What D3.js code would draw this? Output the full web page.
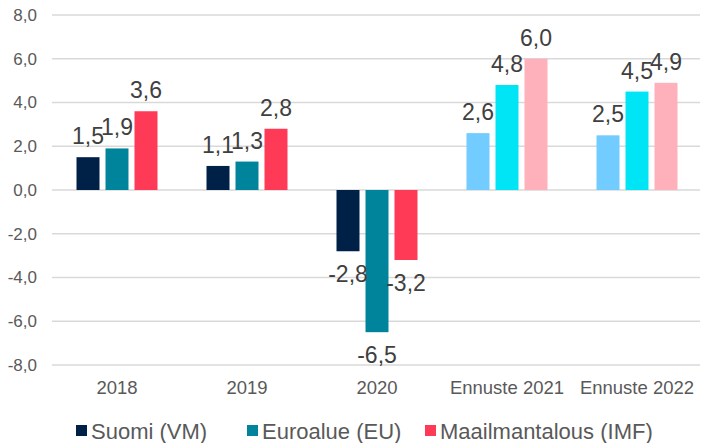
<!DOCTYPE html>
<html>
<head>
<meta charset="utf-8">
<script src="https://cdn.jsdelivr.net/npm/d3@7"></script>
<style>
  body { margin: 0; background: #fff; }
  svg { display: block; font-family: "Liberation Sans", Arial, sans-serif; }
</style>
</head>
<body>
<div id="chart"></div>
<script>
// Talouskasvu: toteutunut ja ennuste
const categories = ["2018", "2019", "2020", "Ennuste 2021", "Ennuste 2022"];
const seriesNames = ["Suomi (VM)", "Euroalue (EU)", "Maailmantalous (IMF)"];
const suomi = [1.5, 1.1, -2.8, 2.6, 2.5];
const euroalue = [1.9, 1.3, -6.5, 4.8, 4.5];
const maailmantalous = [3.6, 2.8, -3.2, 6.0, 4.9];
const forecast = [false, false, false, true, true];
const yTicks = [-8, -6, -4, -2, 0, 2, 4, 6, 8];

(function () {
  const W = 701, H = 443;
  const colors = ["#002147", "#00849b", "#ff3a56"];
  const forecastColors = ["#73ccff", "#00e5f5", "#ffb1bb"];
  const fmt = v => d3.format(".1f")(v).replace(".", ",").replace("−", "-");

  const values = [suomi, euroalue, maailmantalous];
  const rows = categories.map((c, i) => ({
    cat: c, forecast: forecast[i],
    vals: seriesNames.map((s, j) => ({ s: s, j: j, v: values[j][i] }))
  }));

  const svg = d3.select("#chart").append("svg").attr("width", W).attr("height", H);

  const x0 = d3.scaleBand().domain(categories).range([52, 702])
    .paddingInner(0.377).paddingOuter(0.1885);
  const x1 = d3.scaleBand().domain(seriesNames).range([0, x0.bandwidth()])
    .paddingInner(0.207).paddingOuter(0);
  const y = d3.scaleLinear().domain([-8, 8]).range([365, 15]);

  // gridlines
  svg.append("g").selectAll("line").data(yTicks).join("line")
    .attr("x1", 52).attr("x2", 700)
    .attr("y1", d => y(d)).attr("y2", d => y(d))
    .attr("stroke", "#d9d9d9").attr("stroke-width", 1.5);

  // y axis labels
  const yAxis = svg.append("g").attr("transform", "translate(37,0)")
    .call(d3.axisLeft(y).tickValues(yTicks).tickSize(0).tickPadding(0).tickFormat(fmt));
  yAxis.select(".domain").remove();
  yAxis.selectAll("text").attr("font-size", "17px").attr("fill", "#595959")
    .attr("font-family", "Liberation Sans, Arial, sans-serif");

  // bars
  const groups = svg.append("g").selectAll("g").data(rows).join("g")
    .attr("transform", d => `translate(${x0(d.cat)},0)`);

  groups.selectAll("rect").data(d => d.vals.map(v => Object.assign({ f: d.forecast }, v))).join("rect")
    .attr("x", d => x1(d.s))
    .attr("width", x1.bandwidth())
    .attr("y", d => y(Math.max(0, d.v)))
    .attr("height", d => Math.abs(y(d.v) - y(0)))
    .attr("fill", d => (d.f ? forecastColors : colors)[d.j]);

  // data labels
  groups.selectAll("text").data(d => d.vals).join("text")
    .attr("x", d => x1(d.s) + x1.bandwidth() / 2)
    .attr("y", d => d.v >= 0 ? y(d.v) - 13 : y(d.v) + 31)
    .attr("text-anchor", "middle")
    .attr("font-size", "23px").attr("fill", "#404040")
    .text(d => fmt(d.v));

  // category labels
  const xAxis = svg.append("g").attr("transform", "translate(0,381)")
    .call(d3.axisBottom(x0).tickSize(0).tickPadding(0));
  xAxis.select(".domain").remove();
  xAxis.selectAll("text").attr("font-size", "18.5px").attr("fill", "#595959")
    .attr("font-family", "Liberation Sans, Arial, sans-serif");

  // legend
  const legX = [76, 247, 425];
  const leg = svg.append("g").selectAll("g").data(seriesNames).join("g")
    .attr("transform", (d, i) => `translate(${legX[i]},425)`);
  leg.append("rect").attr("width", 11).attr("height", 11).attr("fill", (d, i) => colors[i]);
  leg.append("text").attr("x", 15).attr("y", 13.5)
    .attr("font-size", "22px").attr("fill", "#595959")
    .text(d => d);
})();
</script>
</body>
</html>
